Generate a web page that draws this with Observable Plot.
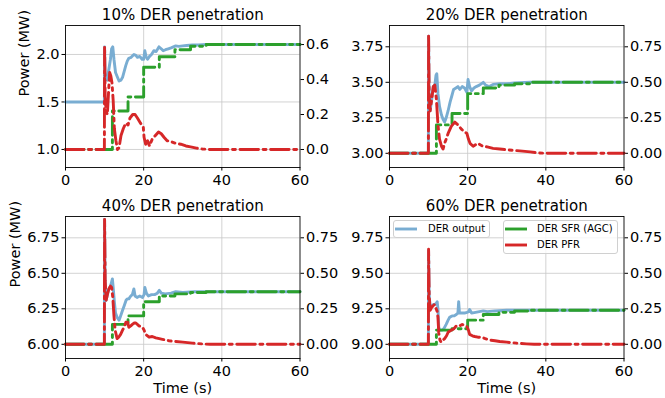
<!DOCTYPE html>
<html><head><meta charset="utf-8">
<script src="https://cdn.jsdelivr.net/npm/d3@7"></script>
<script src="https://cdn.jsdelivr.net/npm/@observablehq/plot@0.6"></script>
<style>
body{margin:0;background:#fff;}
#chart{position:relative;width:665px;height:398px;overflow:hidden;font-family:"DejaVu Sans",sans-serif;}
#chart svg{position:absolute;left:0;top:0;}
.legend{position:absolute;background:rgba(255,255,255,0.8);border:1px solid #d0d0d0;border-radius:3px;box-sizing:border-box;font-size:10px;color:#000;}
.legend .row{position:absolute;left:0;height:14px;white-space:nowrap;}
.legend .row svg{position:absolute;left:4px;top:0;}
.legend .row span{position:absolute;top:0;line-height:14px;}
</style></head><body><div id="chart"></div>
<script>
// ---------- data ----------
const panelTitles = ["10% DER penetration", "20% DER penetration", "40% DER penetration", "60% DER penetration"];
const xTicks = [0, 20, 40, 60];
const leftTicks1 = [1.0, 1.5, 2.0];
const leftTicks2 = [3.00, 3.25, 3.50, 3.75];
const leftTicks3 = [6.00, 6.25, 6.50, 6.75];
const leftTicks4 = [9.00, 9.25, 9.50, 9.75];
const rightTicks1 = [0.0, 0.2, 0.4, 0.6];
const rightTicks234 = [0.00, 0.25, 0.50, 0.75];
const legendLabels = ["DER output", "DER SFR (AGC)", "DER PFR"];

// AGC (SFR) steps, same update instants in every panel
const sfrT = [0, 12, 16, 20, 24, 28, 32, 36, 60];
const sfr10 = [0, 0.22, 0.30, 0.47, 0.53, 0.57, 0.59, 0.60, 0.60];
const sfr20 = [0, 0.20, 0.28, 0.42, 0.46, 0.48, 0.49, 0.50, 0.50];
const sfr40 = [0, 0.14, 0.20, 0.30, 0.34, 0.355, 0.365, 0.37, 0.37];
const sfr60 = [0, 0.10, 0.11, 0.17, 0.21, 0.225, 0.235, 0.24, 0.24];

// 10 %
const pfr10T = [0, 9.95, 10.0, 10.15, 10.4, 10.7, 11.0, 11.3, 11.6, 11.9, 12.2, 12.5, 12.9, 13.3, 13.7, 14.2, 14.8, 15.4, 16.0, 16.5, 17.2, 17.8, 18.4, 19.2, 19.9, 20.1, 20.5, 21.0, 21.5, 22.2, 23.0, 23.8, 24.5, 25.2, 26.0, 27.0, 28.2, 29.5, 30.8, 32.0, 33.5, 35.0, 37.0, 60];
const pfr10 = [0, 0, 0.59, 0.30, 0.22, 0.20, 0.32, 0.44, 0.42, 0.38, 0.28, 0.12, 0.05, 0.0, 0.01, 0.08, 0.12, 0.15, 0.14, 0.18, 0.20, 0.20, 0.18, 0.15, 0.13, 0.07, 0.03, 0.05, 0.02, 0.06, 0.08, 0.10, 0.09, 0.07, 0.05, 0.045, 0.035, 0.03, 0.02, 0.015, 0.008, 0.003, 0, 0];
const out10T = [0, 9.95, 10.0, 10.15, 10.4, 10.7, 11.0, 11.5, 11.8, 12.1, 12.4, 12.8, 13.3, 13.7, 14.2, 14.6, 15.0, 15.4, 15.8, 16.2, 16.8, 17.5, 18.0, 18.4, 19.0, 19.6, 20.0, 20.3, 20.6, 21.0, 21.5, 22.0, 22.6, 23.2, 23.9, 24.5, 25.0, 25.6, 26.3, 27.0, 28.2, 29.0, 30.0, 31.0, 32.5, 34.0, 36.0, 60];
const out10 = [1.5, 1.5, 2.08, 1.80, 1.74, 1.73, 1.82, 1.95, 2.06, 2.08, 1.95, 1.81, 1.76, 1.72, 1.73, 1.76, 1.82, 1.88, 1.93, 1.96, 1.97, 2.00, 1.99, 1.97, 1.98, 1.95, 1.95, 2.04, 1.98, 1.95, 1.98, 2.00, 2.04, 2.03, 2.08, 2.06, 2.04, 2.05, 2.06, 2.07, 2.09, 2.085, 2.09, 2.095, 2.10, 2.10, 2.105, 2.105];

// 20 %
const pfr20T = [0, 9.95, 10.0, 10.15, 10.4, 10.8, 11.2, 11.6, 12.0, 12.4, 12.8, 13.3, 13.7, 14.1, 14.5, 15.0, 15.8, 16.7, 17.5, 18.4, 19.2, 19.8, 20.2, 20.6, 21.4, 22.0, 22.6, 23.2, 23.9, 25.0, 26.5, 28.2, 30.0, 32.0, 34.0, 36.0, 38.0, 40.0, 60];
const pfr20 = [0, 0, 0.825, 0.40, 0.30, 0.38, 0.47, 0.48, 0.38, 0.20, 0.10, 0.05, 0.03, 0.07, 0.10, 0.14, 0.19, 0.22, 0.20, 0.17, 0.15, 0.14, 0.10, 0.07, 0.05, 0.06, 0.07, 0.06, 0.05, 0.045, 0.035, 0.03, 0.025, 0.02, 0.015, 0.01, 0.003, 0, 0];
const out20T = [0, 9.95, 10.0, 10.15, 10.4, 10.8, 11.2, 11.6, 11.9, 12.1, 12.4, 12.8, 13.3, 13.7, 14.1, 14.5, 15.0, 15.5, 15.9, 16.4, 17.0, 17.5, 18.0, 18.6, 19.2, 19.8, 20.1, 20.5, 21.0, 21.6, 22.2, 23.0, 24.0, 24.6, 25.5, 26.5, 28.2, 30.0, 32.0, 36.0, 60];
const out20 = [3.0, 3.0, 3.825, 3.40, 3.30, 3.38, 3.47, 3.48, 3.55, 3.56, 3.42, 3.33, 3.27, 3.24, 3.22, 3.25, 3.30, 3.36, 3.40, 3.45, 3.46, 3.47, 3.45, 3.47, 3.46, 3.43, 3.52, 3.47, 3.44, 3.46, 3.47, 3.48, 3.50, 3.48, 3.47, 3.485, 3.49, 3.49, 3.495, 3.50, 3.50];

// 40 %
const pfr40T = [0, 9.95, 10.0, 10.15, 10.4, 10.8, 11.1, 11.5, 11.8, 12.1, 12.4, 12.7, 13.2, 13.6, 14.1, 14.6, 15.0, 15.5, 15.8, 16.2, 16.7, 17.1, 17.6, 18.0, 18.8, 19.7, 20.1, 20.5, 21.4, 22.2, 23.1, 24.0, 24.8, 26.5, 28.2, 30.0, 32.5, 35.0, 37.0, 60];
const pfr40 = [0, 0, 0.88, 0.45, 0.31, 0.36, 0.39, 0.41, 0.40, 0.33, 0.20, 0.10, 0.04, 0.05, 0.07, 0.10, 0.12, 0.16, 0.17, 0.12, 0.13, 0.14, 0.15, 0.15, 0.13, 0.12, 0.10, 0.07, 0.05, 0.055, 0.045, 0.04, 0.035, 0.025, 0.02, 0.015, 0.008, 0.003, 0, 0];
const out40T = [0, 9.95, 10.0, 10.15, 10.4, 10.8, 11.1, 11.5, 11.8, 12.0, 12.2, 12.5, 12.8, 13.2, 13.7, 14.1, 14.6, 15.0, 15.5, 15.8, 16.2, 16.7, 17.1, 17.5, 17.8, 18.3, 19.0, 19.7, 20.1, 20.3, 20.7, 21.2, 22.0, 22.8, 23.5, 24.0, 24.5, 25.5, 27.0, 28.2, 30.0, 33.0, 36.0, 60];
const out40 = [6.0, 6.0, 6.88, 6.45, 6.31, 6.36, 6.39, 6.41, 6.44, 6.46, 6.40, 6.30, 6.22, 6.19, 6.17, 6.20, 6.24, 6.27, 6.31, 6.32, 6.32, 6.34, 6.35, 6.39, 6.34, 6.33, 6.34, 6.33, 6.35, 6.40, 6.36, 6.34, 6.35, 6.35, 6.36, 6.38, 6.36, 6.355, 6.36, 6.37, 6.365, 6.37, 6.37, 6.37];

// 60 %
const pfr60T = [0, 9.95, 10.0, 10.15, 10.4, 10.8, 11.1, 11.5, 11.8, 12.2, 12.4, 12.6, 12.9, 13.2, 13.7, 14.1, 14.6, 15.0, 15.8, 16.5, 17.1, 17.6, 18.0, 18.6, 19.2, 19.8, 20.2, 20.5, 21.2, 21.8, 22.6, 23.5, 24.5, 25.6, 27.0, 28.2, 30.0, 32.5, 35.0, 37.0, 60];
const pfr60 = [0, 0, 0.67, 0.35, 0.24, 0.26, 0.27, 0.28, 0.26, 0.23, 0.19, 0.08, 0.03, 0.015, 0.03, 0.04, 0.06, 0.085, 0.10, 0.11, 0.13, 0.13, 0.13, 0.14, 0.13, 0.125, 0.10, 0.07, 0.06, 0.055, 0.05, 0.05, 0.04, 0.03, 0.025, 0.02, 0.015, 0.008, 0.003, 0, 0];
const out60T = [0, 9.95, 10.0, 10.15, 10.4, 10.8, 11.2, 11.6, 12.0, 12.2, 12.4, 12.6, 12.9, 13.4, 13.9, 14.5, 15.0, 15.4, 16.0, 16.5, 17.1, 17.5, 17.7, 17.9, 18.5, 19.2, 19.8, 20.3, 20.5, 21.0, 22.0, 23.0, 24.0, 25.0, 27.0, 30.0, 35.0, 60];
const out60 = [9.0, 9.0, 9.66, 9.35, 9.26, 9.27, 9.28, 9.28, 9.29, 9.30, 9.25, 9.12, 9.10, 9.10, 9.11, 9.14, 9.17, 9.19, 9.20, 9.20, 9.21, 9.22, 9.30, 9.22, 9.22, 9.22, 9.225, 9.23, 9.245, 9.22, 9.225, 9.23, 9.235, 9.23, 9.235, 9.24, 9.24, 9.24];

// ---------- drawing ----------
const W = 665, H = 398;
const C_OUT = "#79add2", C_SFR = "#2ca02c", C_PFR = "#d62728";
const LW = 2.9, DASHDOT = "18.5,4.6,2.9,4.6";
const GRID = "#c8c8c8";
const FONT = "DejaVu Sans, sans-serif";

const panels = [
  {title: panelTitles[0], x0: 65, x1: 299.5, y0: 25, y1: 167, left: [0.81, 2.305], right: [-0.103, 0.709],
   lt: leftTicks1, rt: rightTicks1, lf: ".1f", rf: ".1f", outT: out10T, out: out10, pfrT: pfr10T, pfr: pfr10, sfr: sfr10, ylab: -41, xlab: false},
  {title: panelTitles[1], x0: 389, x1: 623.5, y0: 25, y1: 167, left: [2.9, 3.9], right: [-0.1, 0.9],
   lt: leftTicks2, rt: rightTicks234, lf: ".2f", rf: ".2f", outT: out20T, out: out20, pfrT: pfr20T, pfr: pfr20, sfr: sfr20, ylab: null, xlab: false},
  {title: panelTitles[2], x0: 65, x1: 299.5, y0: 216, y1: 358, left: [5.9, 6.9], right: [-0.1, 0.9],
   lt: leftTicks3, rt: rightTicks234, lf: ".2f", rf: ".2f", outT: out40T, out: out40, pfrT: pfr40T, pfr: pfr40, sfr: sfr40, ylab: -50, xlab: true},
  {title: panelTitles[3], x0: 389, x1: 623.5, y0: 216, y1: 358, left: [8.9, 9.9], right: [-0.1, 0.9],
   lt: leftTicks4, rt: rightTicks234, lf: ".2f", rf: ".2f", outT: out60T, out: out60, pfrT: pfr60T, pfr: pfr60, sfr: sfr60, ylab: null, xlab: true}
];

const chart = document.getElementById("chart");

function base(p, yDomain, marks) {
  return Plot.plot({
    width: W, height: H,
    marginLeft: p.x0, marginRight: W - p.x1, marginTop: p.y0, marginBottom: H - p.y1,
    x: {domain: [0, 60], axis: null},
    y: {domain: yDomain, axis: null},
    style: {background: "transparent", fontFamily: FONT, fontSize: "14.5px", color: "black", overflow: "visible"},
    marks
  });
}

for (const p of panels) {
  const leftMarks = [
    Plot.gridX([20, 40], {stroke: GRID, strokeOpacity: 1, strokeWidth: 0.8}),
    Plot.gridY(p.lt, {stroke: GRID, strokeOpacity: 1, strokeWidth: 0.8}),
    Plot.axisX(xTicks, {tickSize: 3.5, tickPadding: 4, label: null, tickFormat: d3.format("d")}),
    Plot.axisY(p.lt, {anchor: "left", tickSize: 3.5, tickPadding: 2.5, label: null, tickFormat: d3.format(p.lf)}),
    Plot.line(p.outT, {x: p.outT, y: p.out, stroke: C_OUT, strokeWidth: LW, curve: "linear"}),
    Plot.text([p.title], {text: d => d, frameAnchor: "top", dy: -10, fontSize: 15, lineAnchor: "middle"})
  ];
  if (p.ylab != null) {
    leftMarks.push(Plot.text(["Power (MW)"], {text: d => d, frameAnchor: "left", dx: p.ylab, rotate: -90, fontSize: 14.5, lineAnchor: "middle"}));
  }
  if (p.xlab) {
    leftMarks.push(Plot.text(["Time (s)"], {text: d => d, frameAnchor: "bottom", dy: 30, fontSize: 14.5, lineAnchor: "middle"}));
  }
  chart.appendChild(base(p, p.left, leftMarks));

  const rightMarks = [
    Plot.axisY(p.rt, {anchor: "right", tickSize: 3.5, tickPadding: 2.5, label: null, tickFormat: d3.format(p.rf)}),
    Plot.line(sfrT, {x: sfrT, y: p.sfr, stroke: C_SFR, strokeWidth: LW, strokeDasharray: DASHDOT, curve: "step-after"}),
    Plot.line(p.pfrT, {x: p.pfrT, y: p.pfr, stroke: C_PFR, strokeWidth: LW, strokeDasharray: DASHDOT, curve: "linear"}),
    Plot.frame({stroke: "black", strokeWidth: 0.9})
  ];
  chart.appendChild(base(p, p.right, rightMarks));
}

// ---------- legends (inside the 60% panel) ----------
function legendBox(left, top, width, height, items) {
  const box = document.createElement("div");
  box.className = "legend";
  Object.assign(box.style, {left: left + "px", top: top + "px", width: width + "px", height: height + "px"});
  items.forEach((it, i) => {
    const row = document.createElement("div");
    row.className = "row";
    row.style.top = (1 + i * 16) + "px";
    row.style.width = width + "px";
    row.innerHTML = `<svg width="26" height="14"><line x1="1" x2="23" y1="7" y2="7" stroke="${it.color}" stroke-width="2.9"/></svg><span style="left:${it.textLeft}px">${it.label}</span>`;
    box.appendChild(row);
  });
  chart.appendChild(box);
}
legendBox(393, 220, 97, 18, [{label: legendLabels[0], color: C_OUT, textLeft: 34}]);
legendBox(503, 220, 115, 34, [{label: legendLabels[1], color: C_SFR, textLeft: 33}, {label: legendLabels[2], color: C_PFR, textLeft: 33}]);
</script>
</body></html>
